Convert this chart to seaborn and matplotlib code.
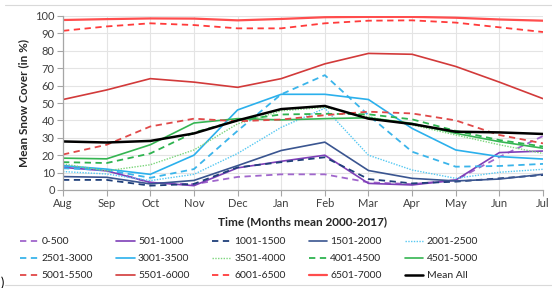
import matplotlib
matplotlib.use("Agg")
import matplotlib.pyplot as plt
import seaborn as sns
import pandas as pd

# Monthly mean snow cover (%) per elevation band, Aug -> Jul
months = ["Aug", "Sep", "Oct", "Nov", "Dec", "Jan", "Feb", "Mar", "Apr", "May", "Jun", "Jul"]

band_0_500 = [14, 11.5, 4.2, 3.3, 7.5, 9.0, 9.0, 4.4, 3.4, 5.7, 19, 31]
band_501_1000 = [13, 11, 4.4, 2.5, 12.7, 16.5, 20, 3.8, 2.9, 5.7, 21.5, 22.4]
band_1001_1500 = [5.8, 5.8, 2.5, 3.5, 13, 16, 18.8, 6.3, 3.8, 4.8, 6.7, 8.6]
band_1501_2000 = [7.7, 7.3, 3.5, 5.5, 14, 22.7, 27.5, 11.2, 6.7, 5.2, 6.3, 9.0]
band_2001_2500 = [10.6, 9.2, 5.4, 9.0, 21, 36, 47, 20, 11.5, 6.7, 10.2, 11.9]
band_2501_3000 = [12.5, 11.5, 7.0, 12, 34, 55, 66, 43, 22, 13.4, 13.8, 15]
band_3001_3500 = [14, 12, 9.0, 20, 46, 55, 55, 52, 35.4, 23, 19.2, 17.8]
band_3501_4000 = [15, 11, 14.5, 23, 38, 45.5, 47.5, 42, 37.4, 31.6, 26, 21]
band_4001_4500 = [16, 15.5, 21, 33, 40, 43.4, 43.8, 43.5, 40.6, 34, 28.7, 25]
band_4501_5000 = [18.3, 17.9, 26, 38.5, 41, 40.3, 41, 41.5, 38.3, 32.6, 27.8, 24]
band_5001_5500 = [20.4, 26, 36.5, 41, 39.5, 40.5, 43, 45, 44, 40, 31.6, 26.8]
band_5501_6000 = [52, 57.5, 64, 62, 59, 64, 72.5, 78.5, 78, 71, 62, 52.5]
band_6001_6500 = [91.5, 94, 95.8, 94.8, 92.9, 92.9, 95.8, 97.3, 97.5, 96.2, 93.5, 90.8]
band_6501_7000 = [97.7, 98.2, 98.6, 98.5, 97.5, 98.3, 99.3, 99.5, 99.5, 99, 98, 97.3]
mean_all = [27.9, 27.3, 28.2, 32.5, 40, 46.5, 48.3, 41, 37.9, 33.5, 33.1, 32.2]

series = [
    ("0-500", band_0_500, "#a066cc", "dash", 1.3),
    ("501-1000", band_501_1000, "#7e3fb8", "solid", 1.2),
    ("1001-1500", band_1001_1500, "#1f3f7a", "dash", 1.3),
    ("1501-2000", band_1501_2000, "#3a5590", "solid", 1.2),
    ("2001-2500", band_2001_2500, "#55c8f2", "dot", 1.0),
    ("2501-3000", band_2501_3000, "#3ab4ea", "dash", 1.3),
    ("3001-3500", band_3001_3500, "#2bb0ec", "solid", 1.2),
    ("3501-4000", band_3501_4000, "#7cd67c", "dot", 1.0),
    ("4001-4500", band_4001_4500, "#2eb34f", "dash", 1.3),
    ("4501-5000", band_4501_5000, "#35b552", "solid", 1.2),
    ("5001-5500", band_5001_5500, "#e04848", "dash", 1.3),
    ("5501-6000", band_5501_6000, "#d23a3a", "solid", 1.2),
    ("6001-6500", band_6001_6500, "#ff3b3b", "dash", 1.3),
    ("6501-7000", band_6501_7000, "#ff4d4d", "solid", 1.6),
    ("Mean All", mean_all, "black", "solid", 1.8),
]
styles = {"solid": "-", "dash": (0, (3.5, 2.5)), "dot": (0, (1, 1))}

sns.set_theme(style="whitegrid")
plt.rcParams["font.family"] = ["Lato", "DejaVu Sans"]

fig = plt.figure(figsize=(5.52, 2.88), dpi=100)
ax = fig.add_axes([63 / 552, 98 / 288, 480 / 552, 174 / 288])

for name, vals, color, ls, lw in series:
    df = pd.DataFrame({"month": range(len(months)), "value": vals})
    sns.lineplot(data=df, x="month", y="value", ax=ax, color=color,
                 linestyle=styles[ls], linewidth=lw, label=name)

ax.set_xlim(0, 11)
ax.set_ylim(0, 100)
ax.set_xticks(range(len(months)))
ax.set_xticklabels(months)
ax.set_yticks(range(0, 101, 10))
ax.grid(True, color="#e4e4e4", linewidth=0.8)
for s in ["top", "right"]:
    ax.spines[s].set_visible(False)
for s in ["left", "bottom"]:
    ax.spines[s].set_color("#a6a6a6")
    ax.spines[s].set_linewidth(0.9)
ax.tick_params(axis="both", direction="out", length=4, width=0.8, color="#a6a6a6",
               labelsize=8, labelcolor="#404040", pad=2, left=True, bottom=True)
ax.set_xlabel("Time (Months mean 2000-2017)", fontsize=8.5, fontweight="bold", labelpad=5)
ax.set_ylabel("Mean Snow Cover (in %)", fontsize=8.5, fontweight="bold", labelpad=4)

handles, labels = ax.get_legend_handles_labels()
ax.get_legend().remove()
order = [r * 5 + c for c in range(5) for r in range(3)]
fig.legend([handles[i] for i in order], [labels[i] for i in order], ncol=5,
           loc="upper left", bbox_to_anchor=(20 / 552, 51 / 288), frameon=False,
           fontsize=7.5, handlelength=1.8, handletextpad=0.3, columnspacing=2.2,
           labelspacing=0.75, borderpad=0, borderaxespad=0)

# light frame and stray caption bracket from the source figure
fig.add_artist(plt.Line2D([5 / 552, 1], [283 / 288, 283 / 288], color="#d9d9d9", lw=0.8))
fig.add_artist(plt.Line2D([5 / 552, 1], [3 / 288, 3 / 288], color="#d9d9d9", lw=0.8))
fig.text(0.002, 0.005, ")", fontsize=9, color="black")

fig.savefig("out.png", dpi=100)
